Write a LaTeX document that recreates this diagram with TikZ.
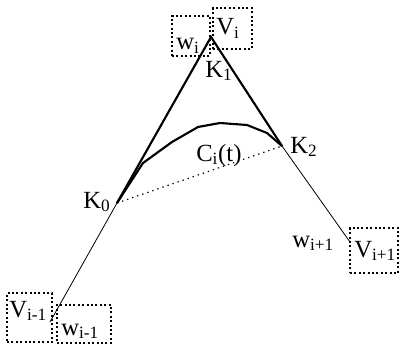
\documentclass[tikz,border=0pt]{standalone}
\usepackage{fontspec}
\setmainfont{Liberation Serif}
\usepackage{tikz}
\usetikzlibrary{positioning, calc}

\tikzset{
  dotbox/.style={draw, line width=1.4pt, dash pattern=on 1.5pt off 1.8pt, inner sep=0pt},
  lbl/.style={font=\fontsize{18.5}{22}\selectfont, inner sep=0pt, anchor=base west},
  thickseg/.style={line width=1.6pt},
  thinseg/.style={line width=0.6pt}
}
\newcommand{\sub}[1]{\textsubscript{#1}}

\begin{document}
\begin{tikzpicture}[x=0.75pt, y=-0.75pt]
        \useasboundingbox (0,0) rectangle (402,346);

        % Control points
        \coordinate (Vi) at (211,37);
        \coordinate (K0) at (117,203);
        \coordinate (K2) at (282,146);
        \coordinate (Vim) at (50,322);
        \coordinate (Vip) at (350,242);

        % Polygon
        \draw[thickseg] (K0) -- (Vi) -- (K2);
        \draw[thinseg] (K0) -- (Vim);
        \draw[thinseg] (K2) -- (Vip);
        \draw[line width=0.9pt, dash pattern=on 1pt off 3pt] (K0) -- (K2);

        % Curve C_i(t)
        \draw[thickseg, line join=round] (K0) -- (143,163) -- (172,142) -- (198,127)
          -- (220,123) -- (247,125) -- (267,133) -- (K2);

        % Dotted boxes
        \node[dotbox, minimum width=38*0.75pt, minimum height=40*0.75pt] (wibox) at (191,36) {};
        \node[dotbox, minimum width=39*0.75pt, minimum height=41*0.75pt] (vibox) at (232.5,28.5) {};
        \node[dotbox, minimum width=45*0.75pt, minimum height=49*0.75pt] (vimbox) at (29.5,317.5) {};
        \node[dotbox, minimum width=54*0.75pt, minimum height=38*0.75pt] (wimbox) at (84,324) {};
        \node[dotbox, minimum width=48*0.75pt, minimum height=45*0.75pt] (vipbox) at (374,250.5) {};

        % Labels
        \node[lbl] (k0) at (83,208) {K\sub{0}};
        \node[lbl] (k1) at (205,77) {K\sub{1}};
        \node[lbl] (k2) at (290,153) {K\sub{2}};
        \node[lbl] (ci) at (196,161) {C\sub{i}(t)};
        \node[lbl] (wi) at (176,50) {w\sub{i}};
        \node[lbl] (vi) at (216,35) {V\sub{i}};
        \node[lbl] (vim) at (9,317) {V\sub{i-1}};
        \node[lbl] (wim) at (61,335) {w\sub{i-1}};
        \node[lbl] (wip) at (292,247) {w\sub{i+1}};
        \node[lbl] (vip) at (354,257) {V\sub{i+1}};
      \end{tikzpicture}
\end{document}
